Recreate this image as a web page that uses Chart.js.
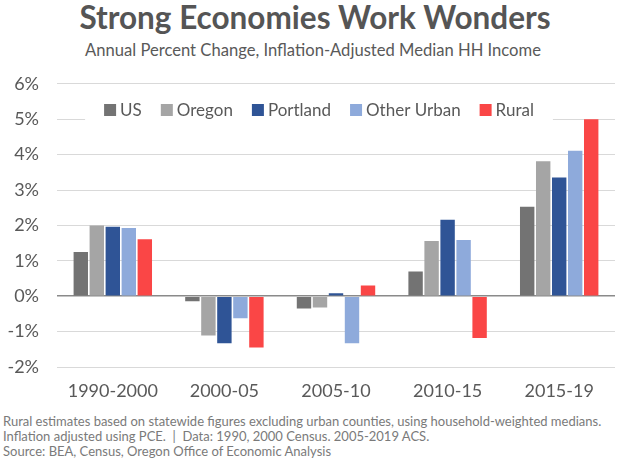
<!DOCTYPE html>
<html>
<head>
<meta charset="utf-8">
<script src="https://cdn.jsdelivr.net/npm/chart.js@4.4.1/dist/chart.umd.min.js"></script>
<style>
  body { margin: 0; background: #fff; font-family: Lato, 'Open Sans', sans-serif; }
  #wrap { position: relative; width: 623px; height: 462px; overflow: hidden; }
  #title { position: absolute; left: 0; width: 630px; top: 2px; text-align: center;
    font-size: 31.5px; line-height: 31.5px; font-weight: 700; color: #555; }
  #subtitle { position: absolute; left: 0; width: 626px; top: 42px; text-align: center;
    font-size: 16.6px; line-height: 17px; color: #595959; }
  #chart { position: absolute; left: 0; top: 55px; }
  #notes { position: absolute; left: 3px; top: 414px; font-size: 13px; line-height: 15px; color: #7a7a7a; }
</style>
</head>
<body>
<div id="wrap">
  <div id="title">Strong Economies Work Wonders</div>
  <div id="subtitle">Annual Percent Change, Inflation-Adjusted Median HH Income</div>
  <canvas id="chart" width="623" height="350"></canvas>
  <div id="notes">
    <div>Rural estimates based on statewide figures excluding urban counties, using household-weighted medians.</div>
    <div>Inflation adjusted using PCE.&nbsp; |&nbsp; Data: 1990, 2000 Census. 2005-2019 ACS.</div>
    <div>Source: BEA, Census, Oregon Office of Economic Analysis</div>
  </div>
</div>
<script>
const periods = ['1990-2000', '2000-05', '2005-10', '2010-15', '2015-19']
const us = [1.25, -0.14, -0.35, 0.7, 2.53]
const oregon = [2.0, -1.11, -0.32, 1.56, 3.81]
const portland = [1.96, -1.33, 0.08, 2.16, 3.35]
const otherUrban = [1.93, -0.62, -1.33, 1.59, 4.11]
const rural = [1.61, -1.45, 0.3, -1.18, 5.0]
const yTicks = [-2, -1, 0, 1, 2, 3, 4, 5, 6]

const series = [
  { label: 'US', data: us, color: '#737373' },
  { label: 'Oregon', data: oregon, color: '#a5a5a5' },
  { label: 'Portland', data: portland, color: '#2f5496' },
  { label: 'Other Urban', data: otherUrban, color: '#8eaadb' },
  { label: 'Rural', data: rural, color: '#fa4646' },
]

// legend drawn inside the plot, on a white strip over the gridlines
const insetLegend = {
  id: 'insetLegend',
  afterDraw(chart, args, opts) {
    const { ctx } = chart
    ctx.save()
    ctx.font = opts.font
    const box = 12
    const items = chart.data.datasets.map((ds) => ({
      text: ds.label,
      color: ds.backgroundColor,
      width: box + opts.textGap + ctx.measureText(ds.label).width,
    }))
    const total = items.reduce((s, it) => s + it.width, 0) + opts.itemGap * (items.length - 1)
    let x = opts.centerX - total / 2
    const y = opts.y

    ctx.fillStyle = '#fff'
    ctx.fillRect(x - opts.pad, y - 14, total + opts.pad * 2, 28)

    ctx.textBaseline = 'middle'
    items.forEach((it) => {
      ctx.fillStyle = it.color
      ctx.fillRect(x, y - box / 2, box, box)
      ctx.fillStyle = '#595959'
      ctx.fillText(it.text, x + box + opts.textGap, y + 1)
      x += it.width + opts.itemGap
    })
    ctx.restore()
  },
}

new Chart(document.getElementById('chart'), {
  type: 'bar',
  data: {
    labels: periods,
    datasets: series.map((s) => ({
      label: s.label,
      data: s.data,
      backgroundColor: s.color,
      categoryPercentage: 0.717,
      barPercentage: 0.9,
    })),
  },
  options: {
    responsive: false,
    animation: false,
    layout: { padding: { top: 10, right: 8, left: 0, bottom: 0 } },
    plugins: {
      legend: { display: false },
      tooltip: { enabled: false },
      insetLegend: { font: '17px Lato', centerX: 319, y: 55, textGap: 4, itemGap: 19, pad: 19 },
    },
    scales: {
      x: {
        grid: { display: false, drawTicks: false },
        border: { display: false },
        ticks: { color: '#595959', font: { family: 'Lato', size: 18 }, padding: 13, maxRotation: 0 },
        afterFit: (scale) => { scale.height = 38 },
      },
      y: {
        min: yTicks[0],
        max: yTicks[yTicks.length - 1],
        afterBuildTicks: (scale) => { scale.ticks = yTicks.map((v) => ({ value: v })) },
        grid: {
          drawTicks: false,
          color: (c) => (c.tick && c.tick.value === 0 ? '#8a8a8a' : '#d9d9d9'),
          lineWidth: (c) => (c.tick && c.tick.value === 0 ? 1.5 : 1),
        },
        border: { display: false },
        ticks: {
          color: '#595959',
          font: { family: 'Lato', size: 18 },
          padding: 18,
          callback: (v) => v + '%',
        },
        afterFit: (scale) => { scale.width = 57 },
      },
    },
  },
  plugins: [insetLegend],
})
</script>
</body>
</html>
